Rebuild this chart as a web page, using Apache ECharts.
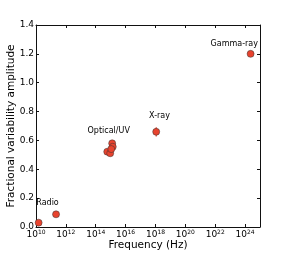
<!DOCTYPE html>
<html><head><meta charset="utf-8">
<script src="https://cdn.jsdelivr.net/npm/echarts@6/dist/echarts.min.js"></script>
<style>html,body{margin:0;padding:0;background:#fff}#c{width:289px;height:253px}</style>
</head><body><div id="c"></div>
<script>
var freqs = [1.5e10, 2.2e11, 5.9e14, 9.3e14, 1.26e15, 1.38e15, 1.1e15, 1.12e18, 2.35e24];
var amps  = [0.03, 0.088, 0.522, 0.511, 0.58, 0.556, 0.54, 0.66, 1.20];
var errFreqs = [1.12e18];
var errAmps = [0.66];
var errSizes = [0.032];
var annTexts = ['Radio', 'Optical/UV', 'X-ray', 'Gamma-ray'];
var annX = [5.9e10, 7.4e14, 1.86e18, 1.9e23];
var annY = [0.168, 0.667, 0.77, 1.27];
var yTicks = [0, 0.2, 0.4, 0.6, 0.8, 1.0, 1.2, 1.4];

var FONT = 'DejaVu Sans';
var chart = echarts.init(document.getElementById('c'));
var pts = freqs.map(function(f, i){ return [f, amps[i]]; });
var errs = errFreqs.map(function(f, i){ return [f, errAmps[i], errSizes[i]]; });
var anns = annTexts.map(function(t, i){ return [annX[i], annY[i], t]; });

function supLabel(v){
  var e = Math.round(Math.log10(v));
  if (e % 2 !== 0) return '';
  return '{b|10}{s|' + e + '}';
}
var axLine = {show: true, onZero: false, lineStyle: {color: '#111', width: 1}};
var tick = {show: true, inside: true, length: 3, lineStyle: {color: '#111'}};
chart.setOption({
  animation: false,
  grid: {left: 36, top: 25, right: 29, bottom: 26, containLabel: false, outerBoundsMode: 'none'},
  xAxis: [{
    type: 'log', logBase: 10, min: 1e10, max: 1e25, interval: 2,
    axisLine: axLine, axisTick: tick, splitLine: {show: false},
    axisLabel: {showMaxLabel: false, margin: 2, formatter: supLabel, color: '#000',
      rich: {b: {fontFamily: FONT, fontSize: 9, color: '#000'},
             s: {fontFamily: FONT, fontSize: 6, color: '#000', padding: [0, 0, 6, 0]}}},
    name: 'Frequency (Hz)', nameLocation: 'middle', nameGap: 13, nameMoveOverlap: false,
    nameTextStyle: {fontFamily: FONT, fontSize: 10.5, color: '#000'}
  }, {
    type: 'log', logBase: 10, min: 1e10, max: 1e25, interval: 2, position: 'top',
    axisLine: axLine, axisTick: tick,
    axisLabel: {show: false}, splitLine: {show: false}
  }],
  yAxis: [{
    type: 'value', min: 0, max: 1.4, interval: 0.2,
    axisLine: axLine, axisTick: tick, splitLine: {show: false},
    axisLabel: {margin: 2, fontFamily: FONT, fontSize: 9, color: '#000',
      formatter: function(v){ return v.toFixed(1); }},
    name: 'Fractional variability amplitude', nameLocation: 'middle', nameGap: 19, nameMoveOverlap: false,
    nameTextStyle: {fontFamily: FONT, fontSize: 10.5, color: '#000'}
  }, {
    type: 'value', min: 0, max: 1.4, interval: 0.2, position: 'right',
    axisLine: axLine, axisTick: tick,
    axisLabel: {show: false}, splitLine: {show: false}
  }],
  series: [{
    type: 'custom', xAxisIndex: 0, yAxisIndex: 0, data: errs, z: 1,
    renderItem: function(params, api){
      var x = api.value(0), y = api.value(1), e = api.value(2);
      var p1 = api.coord([x, y - e]), p2 = api.coord([x, y + e]);
      return {type: 'line', shape: {x1: p1[0], y1: p1[1], x2: p2[0], y2: p2[1]},
        style: {stroke: '#e8432e', lineWidth: 1.2}};
    }
  }, {
    type: 'scatter', data: pts, symbolSize: 7, z: 3,
    itemStyle: {color: '#e8432e', borderColor: '#333', borderWidth: 0.5, opacity: 1}
  }, {
    type: 'custom', data: anns, z: 4, silent: true,
    renderItem: function(params, api){
      var p = api.coord([api.value(0), api.value(1)]);
      return {type: 'text', x: p[0], y: p[1],
        style: {text: annTexts[params.dataIndex], fill: '#000', font: '8px "DejaVu Sans"',
          align: 'center', verticalAlign: 'middle'}};
    }
  }]
});
</script></body></html>
